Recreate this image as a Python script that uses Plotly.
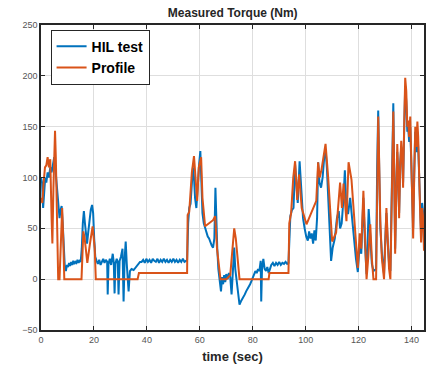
import plotly.graph_objects as go

# Commanded torque profile (Nm) vs time (s)
profile_t = [0, 0.5, 1.0, 1.5, 2.0, 2.5, 3.0, 3.5, 4.0, 4.3, 4.7, 5.0, 5.3, 5.6, 6.0, 6.5, 7.0, 7.6, 8.0, 8.4, 8.8,
             15.3, 15.6, 16.0, 16.5, 17.5, 18.5, 19.5, 20.3, 20.7, 36.5, 37.0, 55.2, 55.4, 56.0, 57.0, 57.8, 58.4,
             59.0, 59.6, 60.5, 61.0, 62.0, 63.5, 65.0, 65.8, 66.5, 67.8, 70.0, 71.5, 72.5, 73.0, 73.6, 74.5, 75.0,
             86.0, 86.3, 93.5, 93.8, 94.5, 95.3, 96.0, 96.8, 97.5, 98.5, 100.3, 101.5, 103.0, 104.0, 104.7, 105.3,
             106.0, 107.5, 108.5, 109.3, 110.0, 111.5, 113.0, 113.7, 114.3, 115.4, 116.2, 117.3, 118.5, 119.7,
             120.4, 121.0, 121.8, 122.4, 123.0, 123.6, 124.4, 125.0, 125.6, 126.6, 127.0, 127.4, 127.8, 128.2,
             128.8, 129.6, 130.0, 130.5, 131.0, 131.5, 132.0, 132.6, 133.1, 133.5, 133.8, 134.2, 134.6, 135.0,
             135.3, 135.7, 136.1, 136.5, 136.8, 137.2, 137.6, 138.0, 138.4, 138.7, 139.1, 139.5, 139.8, 140.2,
             140.6, 141.0, 141.4, 141.8, 142.2, 142.5, 142.9, 143.3, 143.6, 144.0, 144.4, 144.7]
profile_v = [80, 75, 95, 110, 112, 120, 110, 118, 60, 35, 90, 130, 146, 120, 60, 0, 0, 50, 70, 40, 0,
             0, 20, 47, 40, 16, 35, 52, 30, 0, 0, 6, 6, 63, 66, 105, 121, 95,
             77, 110, 120, 80, 52, 55, 58, 62, 30, 0, 0, 4, 30, 50, 40, 10, 0,
             0, 6, 6, 55, 65, 100, 116, 78, 103, 70, 54, 62, 72, 77, 115, 100,
             108, 133, 100, 60, 37, 46, 95, 70, 94, 57, 115, 98, 51, 11,
             45, 30, 87, 40, 0, 20, 54, 20, 0, 0, 100, 160, 110, 57,
             20, 0, 30, 70, 40, 10, 0, 90, 165, 90, 25, 80, 133, 100,
             60, 110, 136, 120, 90, 150, 198, 185, 150, 156, 140, 160, 118, 80,
             40, 100, 150, 130, 155, 140, 110, 60, 36, 70, 60, 28]

# Torque measured on the HIL rig (Nm) vs time (s)
hil_t = [0, 0.4, 0.8, 1.2, 1.6, 2.0, 2.5, 3.0, 3.5, 4.0, 4.5, 5.0, 5.4, 5.8, 6.2, 6.6, 7.0, 7.4, 7.8, 8.2, 8.6,
         9.0, 9.4, 9.8, 10.2, 10.6, 11.0, 11.4, 11.8, 12.2, 12.6, 13.0, 13.4, 13.8, 14.2, 14.6, 15.0, 15.4,
         15.8, 16.2, 16.6, 17.0, 17.4, 17.8, 18.3, 18.8, 19.3, 19.7, 20.1, 20.5,
         21.0, 21.5, 22.0, 22.5, 23.0, 23.5, 24.0, 24.5, 25.0, 25.2, 25.5, 26.0, 26.5, 27.1, 27.5, 27.8, 28.1,
         28.6, 29.0, 29.3, 29.7, 30.2, 30.8, 31.2, 31.6, 32.0, 32.4, 33.1, 33.6, 34.2, 35.0, 35.8, 36.6, 37.4,
         38.0, 38.6, 39.2, 39.8, 40.4, 41.0, 41.6, 42.2, 42.8, 43.4, 44.0, 44.6, 45.2, 45.8, 46.4, 47.0, 47.6,
         48.2, 48.8, 49.4, 50.0, 50.6, 51.2, 51.8, 52.4, 53.0, 53.6, 54.2, 54.8, 55.2,
         55.6, 56.0, 56.5, 57.0, 57.4, 57.8, 58.2, 58.7, 59.2, 59.8, 60.2, 60.6, 61.0, 61.5, 62.0, 62.5, 63.0,
         63.5, 64.0, 64.5, 65.0, 65.5, 65.9, 66.2, 66.6, 67.0,
         67.5, 68.0, 68.4, 68.8, 69.2, 69.6, 70.0, 70.5, 71.0, 71.5, 72.0, 72.4, 72.8, 73.0, 73.4, 73.8, 74.2,
         74.6, 75.0, 75.5, 76.0, 76.5, 77.0, 77.5, 78.0, 78.5, 79.0, 79.5, 80.0, 80.5, 81.0, 81.5, 82.0, 82.5,
         83.0, 83.2, 83.5, 84.0, 84.5, 85.0, 85.5, 86.0, 86.5, 87.0, 87.6, 88.2, 88.8, 89.4, 90.0, 90.6, 91.2,
         91.8, 92.4, 93.0, 93.5,
         93.8, 94.2, 94.8, 95.4, 96.0, 96.5, 97.0, 97.7, 98.3, 99.0, 99.6, 100.2, 100.8, 101.3, 101.8, 102.3,
         102.8, 103.3, 103.8, 104.3, 104.7, 105.2, 105.8, 106.4, 107.0, 107.5, 108.0, 108.5, 109.0, 109.6,
         110.2, 111.0, 111.8, 112.5, 113.0, 113.6, 114.3, 114.8, 115.3, 116.0, 116.8, 117.5, 118.2, 119.0,
         119.7, 120.4, 121.0, 121.8, 122.4, 123.0, 123.8, 124.4, 125.0, 125.6, 126.6, 127.0, 127.4, 127.8,
         128.2, 128.8, 129.6, 130.0, 130.5, 131.0, 131.5, 132.0, 132.6, 133.1, 133.5, 133.8, 134.2, 134.6,
         135.0, 135.3, 135.7, 136.1, 136.5, 136.8, 137.2, 137.6, 138.0, 138.4, 138.7, 139.1, 139.5, 139.8,
         140.2, 140.6, 141.0, 141.4, 141.8, 142.2, 142.5, 142.9, 143.3, 143.6, 144.0, 144.4, 144.7]
hil_v = [100, 95, 70, 90, 100, 95, 105, 100, 110, 105, 115, 120, 110, 95, 85, 70, 60, 68, 72, 55, 30,
         12, 8, 14, 12, 16, 13, 17, 14, 18, 15, 17, 16, 19, 16, 18, 17, 30,
         55, 67, 55, 40, 35, 45, 60, 68, 73, 65, 40, 22,
         18, 15, 19, 14, 17, 20, 16, 19, 17, -15, 15, 20, 14, 25, 16, -14, 15,
         20, 17, -15, 18, 22, 30, -22, 20, 37, 15, -12, 8, 10, 9, 12, 15, 17,
         17, 19, 16, 20, 17, 19, 16, 20, 18, 17, 20, 16, 19, 17, 20, 17, 19,
         16, 19, 17, 20, 17, 19, 16, 19, 17, 20, 17, 18, 19,
         55, 70, 74, 90, 110, 100, 80, 70, 95, 115, 126, 100, 65, 55, 50, 45, 42,
         40, 36, 33, 31, 40, 90, 60, 30, 10,
         -2, -12, 2, -5, 4, -3, 5, 0, 6, 2, -15, 5, 20, 31, 10, 0, -10,
         -20, -25, -22, -20, -17, -15, -12, -10, -7, -5, -2, 2, 5, 8, 6, 10, 8,
         18, -22, 10, 20, 10, 8, 12, 6, 10, 14, 16, 13, 16, 14, 17, 14, 16,
         15, 17, 15, 16,
         40, 62, 68, 70, 113, 90, 75, 116, 90, 60, 50, 42, 38, 47, 40, 45,
         35, 48, 38, 60, 115, 95, 90, 100, 120, 128, 110, 80, 50, 18,
         31, 40, 60, 67, 50, 55, 80, 107, 74, 64, 80, 60, 40, 20,
         7, 35, 25, 80, 35, 5, 69, 45, 15, 8, 10, 110, 166, 105,
         50, 25, 5, 35, 65, 35, 15, 8, 100, 173, 95, 30, 85, 125,
         95, 65, 115, 130, 115, 95, 145, 190, 175, 145, 150, 135, 150, 115,
         85, 50, 105, 145, 125, 145, 130, 105, 65, 45, 75, 65, 35]

x_ticks = [0, 20, 40, 60, 80, 100, 120, 140]
y_ticks = [-50, 0, 50, 100, 150, 200, 250]

fig = go.Figure()
fig.add_trace(go.Scatter(x=hil_t, y=hil_v, mode="lines", name="<b>HIL test</b>",
                         line=dict(color="#0072BD", width=2)))
fig.add_trace(go.Scatter(x=profile_t, y=profile_v, mode="lines", name="<b>Profile</b>",
                         line=dict(color="#D95319", width=2)))

axis_common = dict(showgrid=True, gridcolor="#dedede", gridwidth=1,
                   showline=True, linecolor="#262626", linewidth=1.5, mirror="ticks",
                   ticks="inside", ticklen=4, tickcolor="#262626", zeroline=False,
                   tickfont=dict(family="Liberation Sans, Arial", size=9, color="#555555"))

fig.update_layout(
    width=427, height=379,
    margin=dict(l=41, r=1, t=25, b=49),
    paper_bgcolor="white", plot_bgcolor="white",
    title=dict(text="<b>Measured Torque (Nm)</b>", x=0.545, xanchor="center", y=0.965, yanchor="middle",
               font=dict(family="Liberation Sans, Arial", size=12, color="#262626")),
    xaxis=dict(range=[0, 144.7], tickvals=x_ticks,
               title=dict(text="<b>time (sec)</b>", standoff=8,
                          font=dict(family="Liberation Sans, Arial", size=13, color="#262626")),
               **axis_common),
    yaxis=dict(range=[-50, 250], tickvals=y_ticks, **axis_common),
    legend=dict(x=0.025, y=0.985, xanchor="left", yanchor="top",
                bgcolor="white", bordercolor="#262626", borderwidth=1,
                font=dict(family="Liberation Sans, Arial", size=14, color="#000000"),
                itemwidth=30, tracegroupgap=0),
    showlegend=True,
)

fig.write_html("out.html")
